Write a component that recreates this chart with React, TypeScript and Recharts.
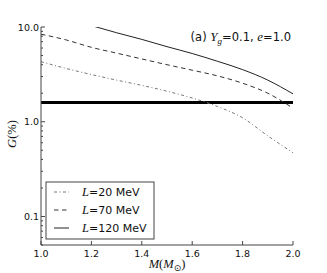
import React from "react";
import { LineChart, Line, XAxis, YAxis, ReferenceLine } from "recharts";

// stellar mass M (solar masses)
const masses = [1.0, 1.1, 1.2, 1.3, 1.4, 1.5, 1.6, 1.7, 1.8, 1.9, 2.0];
// G(%) for each slope L
const gL20 = [4.3, 3.65, 3.15, 2.75, 2.42, 2.1, 1.78, 1.45, 1.1, 0.71, 0.47];
const gL70 = [8.4, 7.3, 6.1, 5.3, 4.6, 4.0, 3.5, 3.05, 2.55, 2.0, 1.39];
const gL120 = [14.6, 12.3, 10.35, 8.7, 7.4, 6.2, 5.25, 4.35, 3.55, 2.75, 1.97];
const threshold = 1.6;

const xTicks = [1.0, 1.2, 1.4, 1.6, 1.8, 2.0];
const yMajor = [0.1, 1, 10];
const yTicks = [
  0.05, 0.06, 0.07, 0.08, 0.09, 0.1, 0.2, 0.3, 0.4, 0.5, 0.6, 0.7, 0.8, 0.9, 1,
  2, 3, 4, 5, 6, 7, 8, 9, 10,
];
const yLabels: Record<string, string> = { "0.1": "0.1", "1": "1.0", "10": "10.0" };

const data = masses.map((m, i) => ({ m, l20: gL20[i], l70: gL70[i], l120: gL120[i] }));

const DASHDOT = "3 2.5 1 2.5";
const DASHED = "4.5 3.5";
const AXIS = "#444";
const tickFont = { fontFamily: "DejaVu Sans", fontSize: 9.5, fill: "#111" };
const mathFont = { fontFamily: "Liberation Serif", fontStyle: "italic" as const };

const isMajor = (v: number) => yMajor.some((t) => Math.abs(t - v) < 1e-9);

const LeftTick = ({ x, y, payload }: any) => {
  const major = isMajor(payload.value);
  return (
    <g>
      <line x1={x} x2={x + (major ? 4 : 2)} y1={y} y2={y} stroke={AXIS} />
      {major && (
        <text x={x - 2} y={y} dy={3.5} textAnchor="end" {...tickFont}>
          {yLabels[String(payload.value)]}
        </text>
      )}
    </g>
  );
};

const RightTick = ({ x, y, payload }: any) => {
  const major = isMajor(payload.value);
  return <line x1={x} x2={x - (major ? 4 : 2)} y1={y} y2={y} stroke={AXIS} />;
};

const BottomTick = ({ x, y, payload }: any) => (
  <g>
    <line x1={x} x2={x} y1={y} y2={y - 4} stroke={AXIS} />
    <text x={x} y={y + 12} textAnchor="middle" {...tickFont}>
      {payload.value.toFixed(1)}
    </text>
  </g>
);

const TopTick = ({ x, y }: any) => <line x1={x} x2={x} y1={y} y2={y + 4} stroke={AXIS} />;

export default function App() {
  return (
    <div style={{ position: "absolute", left: 0, top: 0, width: 327, height: 273, background: "#fff" }}>
      <LineChart width={327} height={273} data={data} margin={{ top: 27, right: 34, bottom: 0, left: 6 }}>
        <XAxis
          dataKey="m"
          type="number"
          domain={[1, 2]}
          ticks={xTicks}
          interval={0}
          height={28}
          tickSize={0}
          tickMargin={0}
          tick={<BottomTick />}
          axisLine={{ stroke: AXIS }}
        />
        <XAxis
          xAxisId="top"
          dataKey="m"
          type="number"
          orientation="top"
          domain={[1, 2]}
          ticks={xTicks}
          interval={0}
          height={0}
          tickSize={0}
          tickMargin={0}
          tick={<TopTick />}
          axisLine={{ stroke: AXIS }}
        />
        <YAxis
          scale="log"
          type="number"
          domain={[0.05, 10]}
          allowDataOverflow
          ticks={yTicks}
          interval={0}
          width={35}
          tickSize={0}
          tickMargin={0}
          tick={<LeftTick />}
          axisLine={{ stroke: AXIS }}
        />
        <YAxis
          yAxisId="right"
          orientation="right"
          scale="log"
          type="number"
          domain={[0.05, 10]}
          allowDataOverflow
          ticks={yTicks}
          interval={0}
          width={0}
          tickSize={0}
          tickMargin={0}
          tick={<RightTick />}
          axisLine={{ stroke: AXIS }}
        />
        <ReferenceLine y={threshold} stroke="#000" strokeWidth={3} />
        <Line dataKey="l20" type="monotone" stroke="#777" strokeWidth={1} strokeDasharray={DASHDOT} dot={false} isAnimationActive={false} />
        <Line dataKey="l70" type="monotone" stroke="#333" strokeWidth={1} strokeDasharray={DASHED} dot={false} isAnimationActive={false} />
        <Line dataKey="l120" type="monotone" stroke="#222" strokeWidth={1} dot={false} isAnimationActive={false} />
      </LineChart>

      <svg width={327} height={273} style={{ position: "absolute", left: 0, top: 0, pointerEvents: "none" }}>
        {/* annotation */}
        <text x={291} y={41} textAnchor="end" fontFamily="DejaVu Sans" fontSize={11.5} fill="#111">
          (a) <tspan {...mathFont} fontSize={13}>Y</tspan>
          <tspan {...mathFont} fontSize={9} dy={3}>g</tspan>
          <tspan dy={-3}>=0.1, </tspan>
          <tspan {...mathFont} fontSize={13}>e</tspan>=1.0
        </text>

        {/* legend */}
        <rect x={46} y={182} width={108} height={57} fill="#fff" stroke={AXIS} strokeWidth={1} />
        {[
          { y: 192, dash: DASHDOT, color: "#777", label: "20" },
          { y: 210, dash: DASHED, color: "#333", label: "70" },
          { y: 228, dash: undefined, color: "#222", label: "120" },
        ].map((e) => (
          <g key={e.label}>
            <line x1={54} x2={69} y1={e.y} y2={e.y} stroke={e.color} strokeDasharray={e.dash} />
            <text x={82} y={e.y + 4} fontFamily="DejaVu Sans" fontSize={11} fill="#111">
              <tspan {...mathFont} fontSize={12.5}>L</tspan>={e.label} MeV
            </text>
          </g>
        ))}

        {/* axis labels */}
        <text x={167} y={268} textAnchor="middle" fontSize={12.5} fill="#111" fontFamily="Liberation Serif">
          <tspan {...mathFont}>M</tspan>(<tspan {...mathFont}>M</tspan>
          <tspan fontSize={9} dy={3} fontFamily="DejaVu Sans">⊙</tspan>
          <tspan dy={-3}>)</tspan>
        </text>
        <text
          x={0}
          y={0}
          transform="translate(16,134) rotate(-90)"
          textAnchor="middle"
          fontSize={12.5}
          fill="#111"
          fontFamily="Liberation Serif"
        >
          <tspan {...mathFont}>G</tspan>(%)
        </text>
      </svg>
    </div>
  );
}
